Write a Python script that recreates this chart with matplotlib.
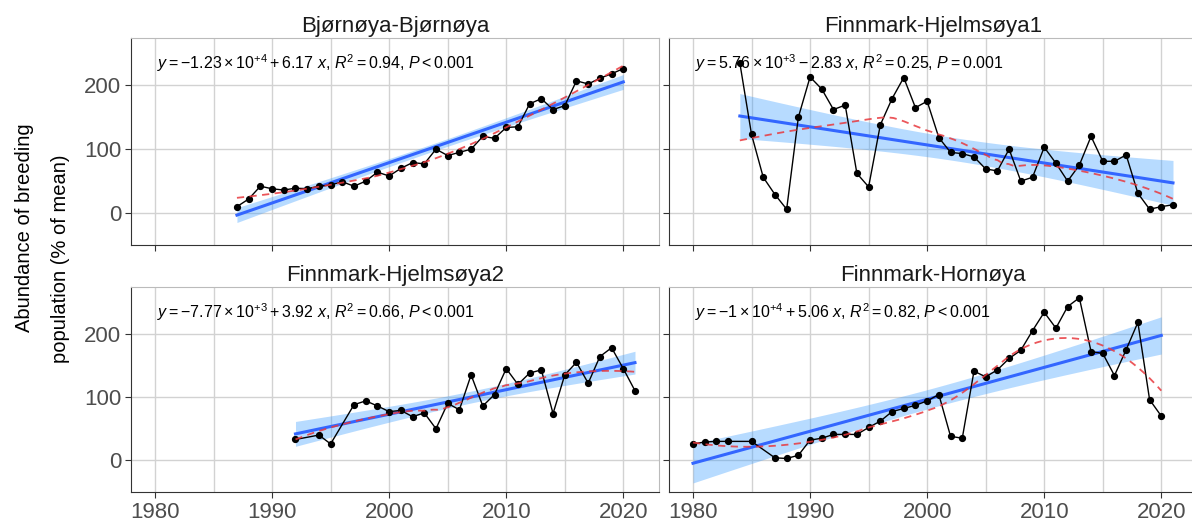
import numpy as np
import matplotlib
matplotlib.use("Agg")
import matplotlib.pyplot as plt

plt.rcParams['font.family'] = ['Liberation Sans', 'DejaVu Sans']
plt.rcParams['mathtext.fontset'] = 'custom'
plt.rcParams['mathtext.rm'] = 'Liberation Sans'
plt.rcParams['mathtext.it'] = 'Liberation Sans:italic'

# --- data ---
bjornoya_years = [1987, 1988, 1989, 1990, 1991, 1992, 1993, 1994, 1995, 1996, 1997, 1998,
                  1999, 2000, 2001, 2002, 2003, 2004, 2005, 2006, 2007, 2008, 2009, 2010,
                  2011, 2012, 2013, 2014, 2015, 2016, 2017, 2018, 2019, 2020]
bjornoya_vals = [10, 22, 42, 38, 36, 39, 38, 42, 44, 49, 42, 50,
                 64, 58, 70, 79, 77, 100, 90, 95, 100, 120, 117, 134,
                 135, 171, 179, 162, 168, 207, 202, 211, 218, 226]

hjelm1_years = [1984, 1985, 1986, 1987, 1988, 1989, 1990, 1991, 1992, 1993, 1994, 1995,
                1996, 1997, 1998, 1999, 2000, 2001, 2002, 2003, 2004, 2005, 2006, 2007,
                2008, 2009, 2010, 2011, 2012, 2013, 2014, 2015, 2016, 2017, 2018, 2019,
                2020, 2021]
hjelm1_vals = [235, 123, 56, 29, 6, 150, 213, 194, 162, 169, 62, 41,
               138, 179, 212, 165, 175, 118, 95, 93, 88, 69, 66, 100,
               50, 56, 103, 78, 50, 75, 120, 81, 81, 91, 31, 6,
               10, 13]

hjelm2_years = [1992, 1994, 1995, 1997, 1998, 1999, 2000, 2001, 2002, 2003, 2004, 2005,
                2006, 2007, 2008, 2009, 2010, 2011, 2012, 2013, 2014, 2015, 2016, 2017,
                2018, 2019, 2020, 2021]
hjelm2_vals = [33, 40, 26, 88, 94, 86, 77, 79, 69, 75, 50, 90,
               80, 135, 86, 104, 145, 120, 138, 143, 74, 135, 155, 122,
               164, 178, 145, 110]

hornoya_years = [1980, 1981, 1982, 1983, 1985, 1987, 1988, 1989, 1990, 1991, 1992, 1993,
                 1994, 1995, 1996, 1997, 1998, 1999, 2000, 2001, 2002, 2003, 2004, 2005,
                 2006, 2007, 2008, 2009, 2010, 2011, 2012, 2013, 2014, 2015, 2016, 2017,
                 2018, 2019, 2020]
hornoya_vals = [26, 29, 30, 30, 30, 4, 3, 8, 32, 35, 41, 41,
                41, 52, 62, 77, 82, 87, 94, 104, 38, 35, 141, 132,
                143, 161, 174, 205, 234, 209, 243, 257, 172, 169, 134, 175,
                218, 96, 70]

titles = ['Bjørnøya-Bjørnøya', 'Finnmark-Hjelmsøya1', 'Finnmark-Hjelmsøya2', 'Finnmark-Hornøya']
equations = [
    r'$y = -1.23\times10^{+4} + 6.17\ x$, $R^2 = 0.94$, $P < 0.001$',
    r'$y = 5.76\times10^{+3} - 2.83\ x$, $R^2 = 0.25$, $P = 0.001$',
    r'$y = -7.77\times10^{+3} + 3.92\ x$, $R^2 = 0.66$, $P < 0.001$',
    r'$y = -1\times10^{+4} + 5.06\ x$, $R^2 = 0.82$, $P < 0.001$',
]
series = [(bjornoya_years, bjornoya_vals), (hjelm1_years, hjelm1_vals),
          (hjelm2_years, hjelm2_vals), (hornoya_years, hornoya_vals)]


def loess(x, y, xs, span=0.75):
    n = len(x)
    q = int(np.floor(n * span))
    out = []
    for x0 in xs:
        d = np.abs(x - x0)
        h = np.sort(d)[q - 1]
        w = np.clip(1 - (d / h) ** 3, 0, None) ** 3
        X = np.vstack([np.ones(n), x - x0, (x - x0) ** 2]).T
        sw = np.sqrt(w)
        beta = np.linalg.lstsq(X * sw[:, None], y * sw, rcond=None)[0]
        out.append(beta[0])
    return np.array(out)


W, H = 1192, 524
fig = plt.figure(figsize=(W / 100, H / 100), dpi=100)
boxes = [
    [131 / W, 1 - 245 / H, 528 / W, 207 / H],
    [669 / W, 1 - 245 / H, 528 / W, 207 / H],
    [131 / W, 1 - 492 / H, 528 / W, 205 / H],
    [669 / W, 1 - 492 / H, 528 / W, 205 / H],
]

for i, (yrs, vals) in enumerate(series):
    ax = fig.add_axes(boxes[i])
    x = np.array(yrs, dtype=float)
    y = np.array(vals, dtype=float)
    xs = np.linspace(x.min(), x.max(), 80)

    # linear fit with 95% band
    b, a = np.polyfit(x, y, 1)
    fit = a + b * xs
    n = len(x)
    resid = y - (a + b * x)
    s = np.sqrt(np.sum(resid ** 2) / (n - 2))
    sxx = np.sum((x - x.mean()) ** 2)
    se = s * np.sqrt(1 / n + (xs - x.mean()) ** 2 / sxx)
    t = 1.96 + 2.4 / (n - 2)
    ax.fill_between(xs, fit - t * se, fit + t * se, color='#3399ff', alpha=0.35, lw=0, zorder=2)
    ax.plot(xs, fit, color='#3366FF', lw=2.2, zorder=3)

    ax.plot(x, y, color='black', lw=1, marker='o', ms=4.2, zorder=4)
    ax.plot(xs, loess(x, y, xs), color='#e8383d', lw=1.3, ls=(0, (4, 3)), alpha=0.85, zorder=5)

    ax.set_xlim(1977.95, 2023.05)
    ax.set_ylim(-50, 274)
    ax.set_xticks([1980, 1990, 2000, 2010, 2020])
    ax.set_xticks([1985, 1995, 2005, 2015], minor=True)
    ax.set_yticks([0, 100, 200])
    ax.grid(True, which='both', axis='x', color='#d2d2d2', lw=1)
    ax.grid(True, which='major', axis='y', color='#d2d2d2', lw=1)
    ax.set_axisbelow(True)
    ax.tick_params(which='minor', length=0)
    ax.tick_params(which='major', length=4, color='#333333', labelsize=16, labelcolor='#4d4d4d', pad=3)
    for side in ['top', 'right']:
        ax.spines[side].set_color('#bbbbbb')
    for side in ['left', 'bottom']:
        ax.spines[side].set_color('#333333')
    if i < 2:
        ax.tick_params(labelbottom=False)
    if i % 2 == 1:
        ax.tick_params(labelleft=False)
    ax.set_title(titles[i], fontsize=16, color='#1a1a1a', pad=4)
    ax.text(0.05, 0.93, equations[i], transform=ax.transAxes, ha='left', va='top',
            fontsize=11.5, color='black', zorder=6)

# y axis title, two lines
fig.text(25 / W, 1 - 228 / H, 'Abundance of breeding', rotation=90,
         ha='center', va='center', fontsize=14.5)
fig.text(61 / W, 1 - 259 / H, 'population (% of mean)', rotation=90,
         ha='center', va='center', fontsize=14.5)

fig.savefig('out.png', dpi=100)
